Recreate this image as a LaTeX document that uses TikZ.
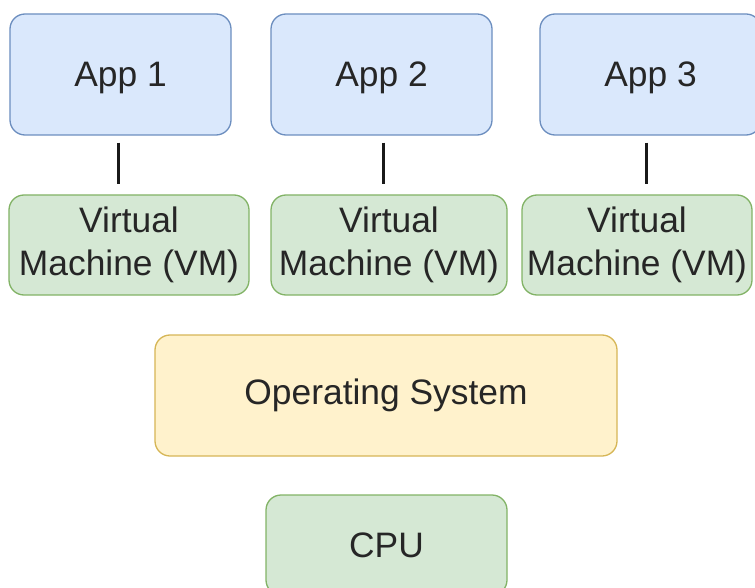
\documentclass[tikz,border=0pt]{standalone}
\usepackage{fontspec}
\setmainfont{Liberation Sans}
\definecolor{appfill}{HTML}{DAE8FC}
\definecolor{appline}{HTML}{6C8EBF}
\definecolor{vmfill}{HTML}{D5E8D4}
\definecolor{vmline}{HTML}{82B366}
\definecolor{osfill}{HTML}{FFF2CC}
\definecolor{osline}{HTML}{D6B656}
\begin{document}
\begin{tikzpicture}[x=1bp,y=-1bp,
    box/.style={draw, rounded corners=15bp, line width=1.3bp, align=center, inner sep=0pt,
      font=\fontsize{35.5}{43}\selectfont, text=black!85},
    appbox/.style={box, fill=appfill, draw=appline, minimum width=221bp, minimum height=121bp, text depth=0pt},
    vmbox/.style={box, fill=vmfill, draw=vmline, minimum height=100bp},
    osbox/.style={box, fill=osfill, draw=osline, minimum width=462bp, minimum height=121bp},
    link/.style={draw=black!90, line width=2.4bp, shorten <=7bp, shorten >=10bp}]
    \useasboundingbox (0,0) rectangle (755,588);

    % Applications
    \node[appbox] (app1) at (120.5, 74.5) {App 1};
    \node[appbox] (app2) at (381.5, 74.5) {App 2};
    \node[appbox] (app3) at (650.5, 74.5) {App 3};

    % Virtual machines
    \node[vmbox, minimum width=240bp] (vm1) at (129, 245) {Virtual\\Machine (VM)};
    \node[vmbox, minimum width=236bp] (vm2) at (389, 245) {Virtual\\Machine (VM)};
    \node[vmbox, minimum width=230bp] (vm3) at (637, 245) {Virtual\\Machine (VM)};

    % Host
    \node[osbox] (os) at (386, 395.5) {Operating System};
    \node[vmbox, minimum width=241bp] (cpu) at (386.5, 545) {CPU};

    % App to VM
    \draw[link] ([xshift=-2bp]app1.south) -- ([xshift=-2bp]app1.south |- vm1.north);
    \draw[link] ([xshift=2bp]app2.south) -- ([xshift=2bp]app2.south |- vm2.north);
    \draw[link] ([xshift=-4bp]app3.south) -- ([xshift=-4bp]app3.south |- vm3.north);
\end{tikzpicture}
\end{document}
